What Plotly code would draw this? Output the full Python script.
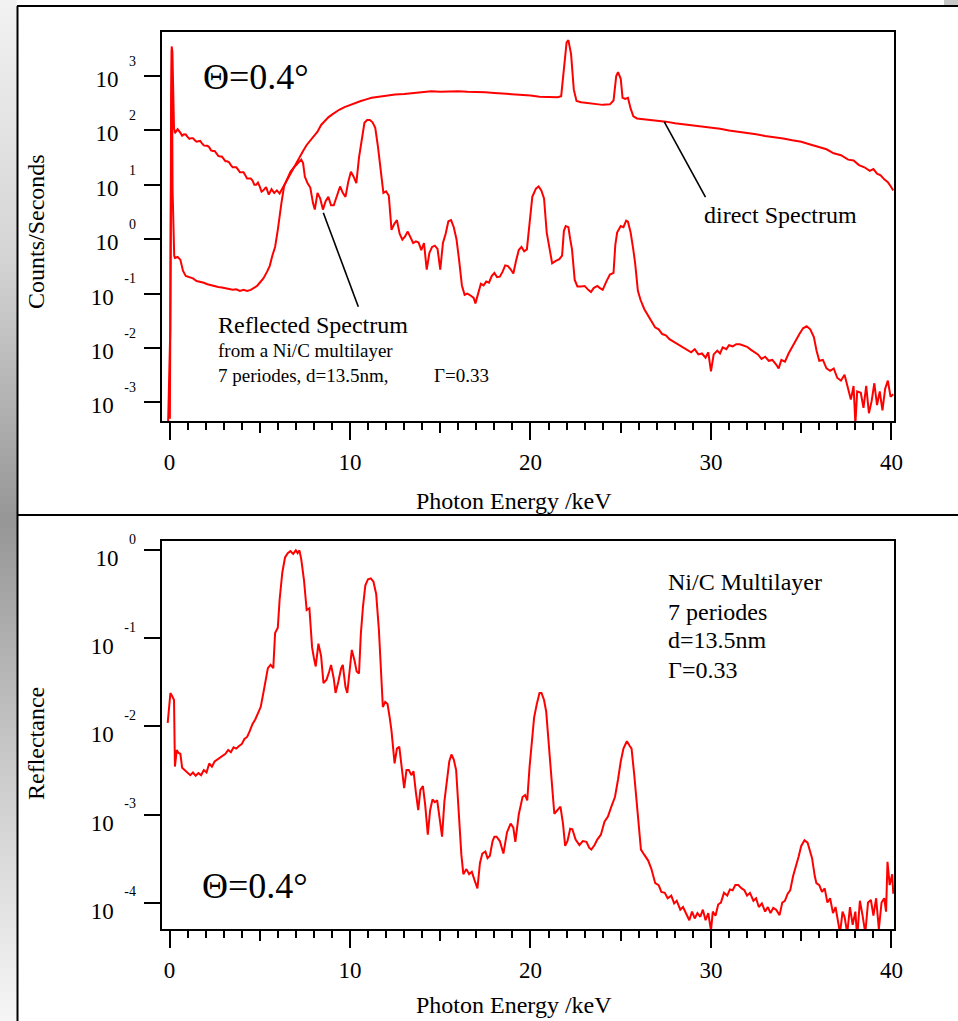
import plotly.graph_objects as go

# ---------------- data ----------------
direct_E = [0.02, 0.08, 0.12, 0.16, 0.20, 0.25, 0.30, 0.45, 0.6, 0.7, 0.8, 0.9, 1.0, 1.1, 1.2, 1.3, 1.4, 1.5, 1.6,
            1.7, 1.8, 1.9, 2.0, 2.1, 2.2, 2.3, 2.4, 2.5, 2.6, 2.7, 2.8, 2.9,
            3.0, 3.1, 3.2, 3.3, 3.4, 3.5, 3.6, 3.7, 3.8, 3.9, 4.0, 4.1, 4.2, 4.3, 4.4, 4.5, 4.6, 4.7, 4.8, 4.9,
            5.0, 5.1, 5.2, 5.35, 5.5, 5.65, 5.8, 5.95, 6.1, 6.25, 6.4,
            6.55, 6.7, 6.85, 7.0, 7.2, 7.4, 7.6, 7.8, 8.0, 8.2, 8.4, 8.6, 8.8, 9.0, 9.2, 9.4, 9.7, 10.0, 10.3, 10.6,
            10.9, 11.2, 11.6, 12.0, 12.5, 13.0, 13.5, 14.0, 14.5, 15.0, 15.5, 16.0, 16.5, 17.0, 17.5, 18.0, 18.5, 19.0,
            19.5, 20.0, 20.5, 21.0, 21.5, 21.7, 21.85, 22.0, 22.1, 22.25, 22.4, 22.55, 22.8, 23.2, 23.6, 24.0, 24.4,
            24.6, 24.75, 24.85, 25.0, 25.1, 25.25, 25.4, 25.55, 25.7, 25.9, 26.2, 26.6, 27.0, 27.5, 28.0, 28.5, 29.0,
            29.5, 30.0, 30.5, 31.0, 31.5, 32.0, 32.5, 33.0, 33.5, 34.0, 34.5, 35.0, 35.5, 36.0, 36.4, 36.8, 37.2,
            37.6, 37.9, 38.2, 38.5, 38.8, 39.0, 39.2, 39.4, 39.6, 39.8, 40.0, 40.1]
direct_cps = [0.0005, 40, 3500, 2800, 200, 110, 89, 105, 91, 80, 85, 84, 76, 70, 72, 72, 66, 62, 63,
              64, 58, 53, 52, 52, 49, 43, 42, 42, 38, 34, 33, 33,
              30, 27, 27, 26, 23, 21, 21, 21, 19, 17, 17, 17, 15, 13, 13, 13, 12, 10, 10, 11,
              9.3, 7.5, 7.9, 9.1, 6.6, 8.3, 7.1, 7.9, 6.9, 8.5, 11,
              13, 16, 20, 24, 32, 42, 54, 66, 78, 95, 126, 151, 174, 195, 219, 240, 269, 295, 324, 347,
              372, 398, 417, 437, 457, 468, 490, 501, 525, 513, 525, 525, 513, 513, 501, 490, 479, 468,
              457, 437, 417, 417, 407, 427, 1260, 4170, 4570, 2510, 562, 347, 331, 316, 309, 295, 302,
              355, 1000, 1175, 891, 398, 380, 398, 251, 182, 166, 162, 155, 151, 145, 135, 129, 126,
              120, 112, 107, 100, 95, 91, 85, 79, 76, 71, 66, 62, 55, 49, 45, 38, 35,
              29, 28, 23, 21, 18, 19.5, 16, 15, 12.6, 11.2, 8.9, 7.9]

reflected_E = [-0.10, 0.04, 0.09, 0.13, 0.17, 0.21, 0.26, 0.30, 0.45, 0.6, 0.75, 0.9, 1.1, 1.3, 1.5, 1.7, 1.9, 2.1,
               2.3, 2.5, 2.7, 2.9, 3.1, 3.3, 3.5, 3.7, 3.9, 4.1, 4.3, 4.5, 4.7, 4.85, 5.0, 5.2, 5.4, 5.55, 5.7,
               5.85, 6.0, 6.1, 6.2, 6.35, 6.5, 6.7, 6.9, 7.1, 7.3, 7.4, 7.5, 7.65, 7.8, 7.95, 8.05, 8.2, 8.35,
               8.5, 8.65, 8.8, 8.95, 9.1, 9.3, 9.45, 9.6, 9.75, 9.9, 10.05, 10.2, 10.35, 10.5, 10.65, 10.8,
               10.95, 11.1, 11.25, 11.4, 11.55, 11.7, 11.85, 12.0, 12.15, 12.3, 12.45, 12.6, 12.75, 12.9,
               13.05, 13.2, 13.35, 13.5, 13.65, 13.8, 13.95, 14.1, 14.25, 14.4, 14.55, 14.7, 14.85, 15.0,
               15.15, 15.3, 15.45, 15.6, 15.75, 15.9, 16.05, 16.2, 16.35, 16.5, 16.7, 16.85, 16.95, 17.1,
               17.25, 17.4, 17.55, 17.7, 17.85, 18.0, 18.15, 18.3, 18.45, 18.6, 18.75, 18.9, 19.05, 19.2,
               19.35, 19.5, 19.65, 19.8, 19.95, 20.1, 20.3, 20.45, 20.6, 20.75, 20.9, 21.05, 21.2, 21.4,
               21.6, 21.75, 21.85, 21.95, 22.1, 22.2, 22.3, 22.45, 22.6, 22.8, 23.0, 23.2, 23.35, 23.5,
               23.7, 23.85, 24.0, 24.2, 24.4, 24.6, 24.7, 24.8, 25.0, 25.15, 25.3, 25.4, 25.55, 25.7, 25.8,
               25.95, 26.1, 26.3, 26.5, 26.7, 26.9, 27.1, 27.3, 27.5, 27.7, 27.9, 28.1, 28.3, 28.5, 28.7,
               28.9, 29.1, 29.3, 29.5, 29.7, 29.85, 30.0, 30.15, 30.35, 30.5, 30.65, 30.85, 31.0, 31.2,
               31.4, 31.6, 31.8, 32.0, 32.2, 32.4, 32.6, 32.8, 33.0, 33.2, 33.4, 33.6, 33.75, 33.9, 34.1,
               34.3, 34.5, 34.7, 34.9, 35.1, 35.3, 35.5, 35.7, 35.85, 36.0, 36.2, 36.4, 36.6, 36.8, 37.0,
               37.2, 37.4, 37.6, 37.75, 37.9, 38.0, 38.1, 38.3, 38.45, 38.6, 38.75, 38.9, 39.05, 39.2,
               39.35, 39.5, 39.65, 39.8, 39.95, 40.1]
reflected_cps = [0.0002, 0.02, 400, 3000, 8, 2.0, 0.5, 0.45, 0.47, 0.42, 0.26, 0.21, 0.20, 0.19, 0.17, 0.166,
                 0.158, 0.148, 0.141, 0.138, 0.132, 0.129, 0.126, 0.123, 0.117, 0.120, 0.112, 0.117, 0.112,
                 0.117, 0.129, 0.138, 0.158, 0.19, 0.25, 0.32, 0.50, 0.72, 1.48, 2.8, 4.6, 9.5, 12.6, 17.4,
                 21, 25, 29, 25, 14, 10.7, 8.9, 4.6, 3.5, 7.1, 5.6, 3.5, 5.0, 6.0, 4.2, 4.2, 6.3, 9.3, 7.1,
                 6.0, 11.2, 17.4, 14.1, 10.7, 32, 68, 138, 155, 155, 141, 112, 50, 20, 7.1, 7.6, 6.3, 1.48,
                 1.9, 2.24, 1.26, 0.98, 1.12, 1.38, 1.05, 0.85, 0.91, 0.87, 0.63, 0.85, 0.275, 0.56, 0.72,
                 0.76, 0.66, 0.275, 0.85, 1.26, 2.14, 2.24, 1.66, 1.0, 0.40, 0.141, 0.095, 0.100, 0.091,
                 0.083, 0.066, 0.100, 0.151, 0.141, 0.166, 0.158, 0.21, 0.24, 0.20, 0.204, 0.25, 0.33, 0.32,
                 0.28, 0.234, 0.40, 0.63, 0.72, 0.60, 0.65, 2.0, 6.0, 8.5, 9.3, 7.9, 5.6, 1.32, 0.71, 0.36,
                 0.40, 0.43, 0.50, 1.41, 1.74, 1.66, 1.0, 0.65, 0.178, 0.135, 0.135, 0.138, 0.117, 0.107,
                 0.126, 0.138, 0.126, 0.117, 0.166, 0.224, 0.24, 0.79, 1.32, 1.74, 1.66, 2.19, 2.09, 1.32,
                 0.63, 0.355, 0.112, 0.076, 0.052, 0.040, 0.032, 0.024, 0.022, 0.018, 0.017, 0.0145, 0.0132,
                 0.012, 0.011, 0.010, 0.0089, 0.0083, 0.0095, 0.0076, 0.0079, 0.0066, 0.0083, 0.0037,
                 0.0076, 0.0089, 0.0079, 0.0102, 0.0095, 0.0112, 0.0107, 0.0117, 0.0117, 0.011, 0.0105,
                 0.0093, 0.0083, 0.0076, 0.0063, 0.0069, 0.0058, 0.006, 0.005, 0.0042, 0.006, 0.0056,
                 0.0079, 0.0105, 0.0141, 0.018, 0.023, 0.025, 0.022, 0.0158, 0.0089, 0.0058, 0.006, 0.0042,
                 0.0038, 0.0042, 0.0028, 0.0025, 0.0032, 0.00166, 0.00112, 0.002, 0.0004, 0.00158, 0.0015,
                 0.00079, 0.002, 0.00063, 0.00105, 0.00224, 0.00089, 0.00158, 0.00071, 0.00178, 0.0025,
                 0.00126, 0.0014]

reflectance_E = [-0.10, 0.05, 0.15, 0.25, 0.3, 0.4, 0.5, 0.6, 0.7, 0.85, 1.0, 1.15, 1.3, 1.45, 1.6, 1.75, 1.9,
                 2.05, 2.2, 2.35, 2.5, 2.65, 2.8, 2.95, 3.1, 3.25, 3.4, 3.55, 3.7, 3.85, 4.0, 4.15, 4.3, 4.45,
                 4.6, 4.75, 4.9, 5.05, 5.2, 5.35, 5.45, 5.6, 5.75, 5.85, 6.0, 6.1, 6.25, 6.4, 6.55, 6.7, 6.85,
                 7.0, 7.1, 7.2, 7.3, 7.45, 7.6, 7.75, 7.9, 8.0, 8.1, 8.25, 8.4, 8.53, 8.7, 8.85, 8.95, 9.1,
                 9.2, 9.35, 9.5, 9.6, 9.75, 9.85, 10.0, 10.1, 10.25, 10.37, 10.5, 10.6, 10.72, 10.85, 11.0,
                 11.15, 11.3, 11.45, 11.6, 11.72, 11.82, 11.95, 12.08, 12.2, 12.3, 12.47, 12.6, 12.73, 12.85,
                 13.0, 13.13, 13.26, 13.4, 13.52, 13.65, 13.78, 13.9, 14.04, 14.17, 14.31, 14.44, 14.57,
                 14.7, 14.83, 14.97, 15.1, 15.23, 15.36, 15.5, 15.62, 15.75, 15.88, 15.98, 16.07, 16.17,
                 16.28, 16.45, 16.6, 16.75, 16.9, 17.06, 17.2, 17.33, 17.5, 17.62, 17.75, 17.9, 18.0, 18.12,
                 18.3, 18.5, 18.7, 18.9, 19.05, 19.16, 19.35, 19.56, 19.7, 19.82, 19.95, 20.08, 20.2, 20.35,
                 20.5, 20.61, 20.75, 20.87, 21.0, 21.14, 21.32, 21.48, 21.66, 21.8, 21.92, 22.05, 22.2,
                 22.32, 22.5, 22.71, 22.9, 23.1, 23.25, 23.37, 23.55, 23.7, 23.9, 24.1, 24.29, 24.5, 24.68,
                 24.85, 25.0, 25.15, 25.34, 25.5, 25.6, 25.75, 25.86, 26.0, 26.12, 26.3, 26.52, 26.7, 26.91,
                 27.1, 27.25, 27.44, 27.6, 27.8, 27.96, 28.1, 28.3, 28.45, 28.62, 28.8, 28.95, 29.1, 29.25,
                 29.41, 29.55, 29.7, 29.85, 30.0, 30.1, 30.25, 30.4, 30.55, 30.72, 30.9, 31.05, 31.2, 31.35,
                 31.51, 31.7, 31.85, 32.0, 32.16, 32.35, 32.5, 32.65, 32.82, 33.0, 33.15, 33.3, 33.45, 33.61,
                 33.8, 33.95, 34.1, 34.25, 34.39, 34.55, 34.7, 34.85, 35.0, 35.18, 35.35, 35.5, 35.6, 35.75,
                 35.84, 36.0, 36.15, 36.3, 36.45, 36.6, 36.76, 36.9, 37.05, 37.15, 37.29, 37.4, 37.55, 37.7,
                 37.85, 38.0, 38.1, 38.25, 38.4, 38.55, 38.7, 38.86, 39.0, 39.15, 39.3, 39.45, 39.6, 39.7,
                 39.78, 39.9, 40.04, 40.1]
reflectance = [0.011, 0.024, 0.022, 0.020, 0.0035, 0.0054, 0.0050, 0.0049, 0.0034, 0.0032, 0.0030, 0.0028,
               0.0030, 0.00275, 0.00295, 0.0028, 0.0032, 0.0030, 0.0038, 0.0035, 0.0040, 0.0042, 0.0044,
               0.0047, 0.0049, 0.0054, 0.0051, 0.0058, 0.0056, 0.0060, 0.0063, 0.0072, 0.0076, 0.0089,
               0.0107, 0.012, 0.0141, 0.0166, 0.024, 0.038, 0.046, 0.050, 0.046, 0.115, 0.132, 0.275, 0.56,
               0.83, 0.93, 0.98, 0.91, 1.0, 0.93, 1.0, 0.79, 0.46, 0.21, 0.22, 0.079, 0.060, 0.048, 0.087,
               0.063, 0.031, 0.034, 0.042, 0.050, 0.035, 0.024, 0.032, 0.045, 0.050, 0.028, 0.024, 0.050,
               0.074, 0.056, 0.042, 0.040, 0.112, 0.23, 0.40, 0.47, 0.48, 0.44, 0.32, 0.126, 0.040, 0.0166,
               0.019, 0.018, 0.0126, 0.0089, 0.0038, 0.0056, 0.0059, 0.0035, 0.0020, 0.0032, 0.0032,
               0.0028, 0.0031, 0.00178, 0.00112, 0.0019, 0.0021, 0.00126, 0.00059, 0.00112, 0.00148,
               0.00138, 0.00145, 0.00089, 0.00056, 0.00141, 0.00245, 0.0040, 0.0048, 0.0042, 0.0032,
               0.00141, 0.00068, 0.00035, 0.00021, 0.00024, 0.00021, 0.000224, 0.00018, 0.000145, 0.00028,
               0.00036, 0.00038, 0.00032, 0.00034, 0.0005, 0.00056, 0.00056, 0.0005, 0.00036, 0.00063,
               0.00079, 0.00071, 0.00049, 0.0010, 0.00158, 0.00166, 0.00145, 0.0035, 0.0071, 0.0126, 0.018,
               0.024, 0.024, 0.020, 0.0148, 0.0063, 0.00295, 0.00102, 0.00112, 0.00123, 0.00079, 0.00044,
               0.0005, 0.00069, 0.00068, 0.00052, 0.00045, 0.0005, 0.00049, 0.00042, 0.0004, 0.00045,
               0.00052, 0.00059, 0.00083, 0.00095, 0.00126, 0.00158, 0.0025, 0.0040, 0.0056, 0.0068, 0.0060,
               0.0056, 0.0028, 0.00148, 0.00071, 0.0004, 0.00035, 0.0003, 0.00024, 0.000166, 0.000158,
               0.000132, 0.000129, 0.000112, 0.00012, 0.000098, 0.000105, 0.000083, 0.000089, 0.000076,
               0.000063, 0.000079, 0.000066, 0.000076, 0.000069, 0.000083, 0.000063, 0.000076, 0.000048,
               0.000079, 0.000071, 0.000095, 0.0001, 0.000129, 0.00012, 0.000141, 0.000138, 0.000158,
               0.000158, 0.000145, 0.000138, 0.00012, 0.000129, 0.000105, 0.000112, 0.000089, 0.000098,
               0.000079, 0.000089, 0.000076, 0.000087, 0.000083, 0.000072, 0.0001, 0.000105, 0.000126,
               0.000138, 0.0002, 0.00025, 0.00033, 0.00044, 0.00051, 0.00048, 0.00036, 0.00032, 0.0002,
               0.000166, 0.000158, 0.000132, 0.000145, 0.0001, 0.000112, 0.000076, 0.000089, 0.000063,
               0.000045, 0.000079, 0.000069, 0.000045, 0.000089, 0.000056, 0.000079, 0.00004, 0.000105,
               0.000071, 0.000045, 0.0001, 0.000107, 0.000071, 0.000112, 0.00005, 0.0001, 0.000112,
               0.000079, 0.00029, 0.000158, 0.00021, 0.000126]

x_ticks = [0, 10, 20, 30, 40]
top_exponents = [-3, -2, -1, 0, 1, 2, 3]
bottom_exponents = [-4, -3, -2, -1, 0]

# ---------------- styling ----------------
FONT = "Liberation Serif, Times New Roman, serif"
RED = "#ff0000"
W, H = 958, 1021
L, R, T, B = 162, 64, 32, 92
PW, PH = W - L - R, H - T - B


def px(x):
    return (x - L) / PW


def py(y):
    return (H - B - y) / PH


top_dom = [py(421), 1.0]
bot_dom = [0.0, py(541)]
xr = [-0.416, 40.14]
top_r = [-3.344, 3.81]
bot_r = [-4.30, 0.106]
BOT_DEC = (929 - 541) / (bot_r[1] - bot_r[0])   # pixels per decade, lower panel
EXT = 25                                          # extra px above lower panel for the exponent labels

fig = go.Figure()
fig.add_trace(go.Scatter(x=direct_E, y=direct_cps, mode="lines", line=dict(color=RED, width=2),
                         xaxis="x", yaxis="y", hoverinfo="skip"))
fig.add_trace(go.Scatter(x=reflected_E, y=reflected_cps, mode="lines", line=dict(color=RED, width=2),
                         xaxis="x", yaxis="y", hoverinfo="skip"))
fig.add_trace(go.Scatter(x=reflectance_E, y=reflectance, mode="lines", line=dict(color=RED, width=2),
                         xaxis="x2", yaxis="y2", hoverinfo="skip"))
# empty helpers so the label-only axes are drawn
for xa, ya in [("x3", "y"), ("x4", "y2"), ("x", "y3"), ("x", "y4"), ("x2", "y5"), ("x5", "y6")]:
    fig.add_trace(go.Scatter(x=[None], y=[None], xaxis=xa, yaxis=ya, mode="lines", hoverinfo="skip"))

xcommon = dict(range=xr, tickmode="linear", tick0=0, dtick=10, ticks="outside", ticklen=17, tickwidth=2,
               tickcolor="black", showline=True, linewidth=2, linecolor="black", mirror=True,
               showgrid=False, zeroline=False, tickfont=dict(family=FONT, size=23, color="black"),
               minor=dict(tick0=0, dtick=1, ticks="outside", ticklen=7, tickwidth=1.5, tickcolor="black",
                          showgrid=False),
               ticklabelstandoff=2)
xmid = dict(range=xr, tickmode="linear", tick0=5, dtick=10, ticks="outside", ticklen=11, tickwidth=2,
            tickcolor="black", showticklabels=False, showline=False, showgrid=False, zeroline=False)


def ymain(rng, exps, dom):
    return dict(type="log", range=rng, domain=dom, tickmode="array", tickvals=[10.0 ** e for e in exps],
                showticklabels=False, ticks="outside", ticklen=16, tickwidth=2, tickcolor="black",
                showline=True, linewidth=2, linecolor="black", mirror=True, showgrid=False, zeroline=False)


def ylab(rng, exps, off, base, **kw):
    if base:
        txt = ['10<span style="font-size:14px;color:rgba(0,0,0,0)">\u00a0\u00a0\u00a0%d</span>' % e for e in exps]
        size = 23
    else:
        txt = ["%d" % e for e in exps]
        size = 14
    d = dict(type="log", range=rng, side="left", tickmode="array",
             tickvals=[10.0 ** (e + off) for e in exps], ticktext=txt, ticks="", showline=False,
             showgrid=False, zeroline=False, ticklabelstandoff=25,
             tickfont=dict(family=FONT, size=size, color="black"))
    d.update(kw)
    return d


fig.update_layout(
    width=W, height=H, margin=dict(l=L, r=R, t=T, b=B, autoexpand=False),
    paper_bgcolor="white", plot_bgcolor="rgba(0,0,0,0)", showlegend=False,
    font=dict(family=FONT, color="black"),
    xaxis=dict(domain=[0, 1], anchor="y", **xcommon),
    xaxis2=dict(domain=[0, 1], anchor="y2", **xcommon),
    xaxis3=dict(overlaying="x", anchor="y", **xmid),
    xaxis4=dict(overlaying="x2", anchor="y2", **xmid),
    xaxis5=dict(domain=[0, 1], anchor="y6", range=xr, visible=False),
    yaxis=ymain(top_r, top_exponents, top_dom),
    yaxis2=ymain(bot_r, bottom_exponents, bot_dom),
    yaxis3=ylab(top_r, top_exponents, -0.055, True, overlaying="y", anchor="x"),
    yaxis4=ylab(top_r, top_exponents, 0.276, False, overlaying="y", anchor="x"),
    yaxis5=ylab(bot_r, bottom_exponents, -0.09, True, overlaying="y2", anchor="x2"),
    yaxis6=ylab([bot_r[0], bot_r[1] + EXT / BOT_DEC], bottom_exponents, 0.125, False,
                anchor="x5", domain=[0, py(541 - EXT)]),
)

# ---------- text annotations ----------
def note(text, x, y, size, xanchor="left", angle=0):
    fig.add_annotation(text=text, xref="paper", yref="paper", x=px(x), y=py(y), xanchor=xanchor,
                       yanchor="middle", showarrow=False, textangle=angle,
                       font=dict(family=FONT, size=size, color="black"))


note("Θ=0.4°", 201, 77, 36)
note("Reflected Spectrum", 216, 325, 24)
note("from a Ni/C multilayer", 216, 350, 19)
note("7 periodes, d=13.5nm,", 216, 375, 19)
note("Γ=0.33", 432, 375, 19)
note("direct Spectrum", 702, 215, 24)
note("Ni/C Multilayer", 666, 582, 24)
note("7 periodes", 666, 612, 24)
note("d=13.5nm", 666, 640, 24)
note("Γ=0.33", 666, 670, 24)
note("Θ=0.4°", 200, 886, 36)
# axis titles
note("Photon Energy /keV", 514, 501, 24, xanchor="center")
note("Photon Energy /keV", 514, 1005, 24, xanchor="center")
note("Counts/Seconds", 36, 232, 24, xanchor="center", angle=-90)
note("Reflectance", 36, 744, 24, xanchor="center", angle=-90)

shapes = []
# leader lines
for (x0, y0, x1, y1) in [(323.3, 212.7, 358.3, 306.7), (664.3, 121.9, 705.5, 197.2)]:
    shapes.append(dict(type="line", xref="paper", yref="paper", x0=px(x0), y0=py(y0), x1=px(x1), y1=py(y1),
                       line=dict(color="black", width=1.6)))

# window-like gray strip at the left
def gray(y):
    pts = [(0, 242), (260, 212), (520, 150), (780, 205), (1021, 246)]
    for (a, ga), (b, gb) in zip(pts[:-1], pts[1:]):
        if a <= y <= b:
            return ga + (gb - ga) * (y - a) / (b - a)
    return 246

step = 8
for y0 in range(0, H, step):
    g = int(round(gray(y0 + step / 2)))
    shapes.append(dict(type="rect", xref="paper", yref="paper", x0=px(0), x1=px(17), y0=py(y0),
                       y1=py(min(H, y0 + step)), line=dict(width=0), fillcolor="rgb(%d,%d,%d)" % (g, g, g),
                       layer="below"))
shapes.append(dict(type="rect", xref="paper", yref="paper", x0=px(944), x1=px(958), y0=py(0), y1=py(6),
                   line=dict(width=0), fillcolor="rgb(200,200,200)", layer="below"))
# frame lines
for (x0, y0, x1, y1) in [(17, 6, 958, 6), (17.5, 6, 17.5, 1021), (17, 515, 958, 515)]:
    shapes.append(dict(type="line", xref="paper", yref="paper", x0=px(x0), y0=py(y0), x1=px(x1), y1=py(y1),
                       line=dict(color="black", width=2)))
fig.update_layout(shapes=shapes)

fig.write_html("out.html")
